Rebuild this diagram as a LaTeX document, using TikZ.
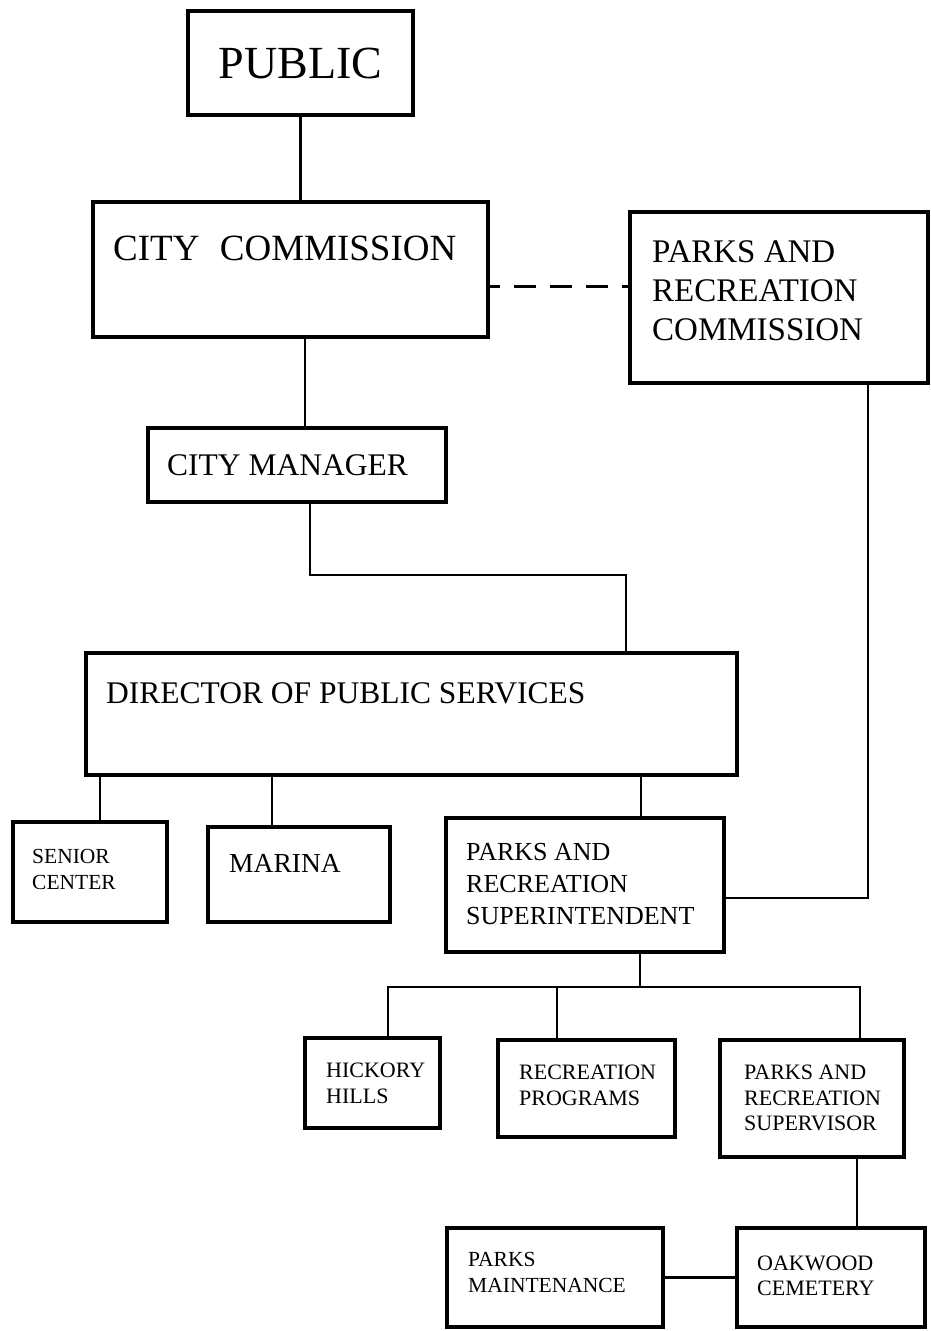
\documentclass[tikz,border=0pt]{standalone}
\usepackage{fontspec}
\setmainfont{Liberation Serif}
\usetikzlibrary{positioning}

\begin{document}
\begin{tikzpicture}[x=1pt,y=-1pt,
    orgbox/.style={draw,line width=4.5pt,anchor=north west,inner sep=0pt,outer sep=0pt},
    orgtext/.style={align=left,inner sep=0pt,anchor=north west},
    link/.style={line width=2.3pt}]
  \useasboundingbox (0,0) rectangle (930,1331);

  % boxes, top to bottom
  \node[orgbox,minimum width=225pt,minimum height=104pt,font=\fontsize{46}{52}\selectfont] (public) at (188,11) {PUBLIC};

  \node[orgbox,minimum width=395pt,minimum height=135pt] (citycomm) at (93,202) {};
  \node[orgtext,font=\fontsize{37}{42}\selectfont,below right=33.5pt and 20pt of citycomm.north west] (citycommtext) {CITY\hspace{.55em}COMMISSION};

  \node[orgbox,minimum width=298pt,minimum height=171pt] (parkscomm) at (630,212) {};
  \node[orgtext,font=\fontsize{33}{39}\selectfont,below right=28.2pt and 22pt of parkscomm.north west] (parkscommtext) {PARKS AND\\RECREATION\\COMMISSION};

  \node[orgbox,minimum width=298pt,minimum height=74pt] (citymgr) at (148,428) {};
  \node[orgtext,font=\fontsize{31.5}{37}\selectfont,below right=26.1pt and 19pt of citymgr.north west] (citymgrtext) {CITY MANAGER};

  \node[orgbox,minimum width=651pt,minimum height=122pt] (director) at (86,653) {};
  \node[orgtext,font=\fontsize{31.5}{37}\selectfont,below right=29.1pt and 20pt of director.north west] (directortext) {DIRECTOR OF PUBLIC SERVICES};

  \node[orgbox,minimum width=154pt,minimum height=100pt] (senior) at (13,822) {};
  \node[orgtext,font=\fontsize{21.5}{26}\selectfont,below right=26.8pt and 19pt of senior.north west] (seniortext) {SENIOR\\CENTER};

  \node[orgbox,minimum width=182pt,minimum height=95pt] (marina) at (208,827) {};
  \node[orgtext,font=\fontsize{27.5}{32}\selectfont,below right=26.8pt and 21pt of marina.north west] (marinatext) {MARINA};

  \node[orgbox,minimum width=278pt,minimum height=134pt] (supt) at (446,818) {};
  \node[orgtext,font=\fontsize{26}{32}\selectfont,below right=24.8pt and 20pt of supt.north west] (supttext) {PARKS AND\\RECREATION\\SUPERINTENDENT};

  \node[orgbox,minimum width=135pt,minimum height=90pt] (hickory) at (305,1038) {};
  \node[orgtext,font=\fontsize{22}{26}\selectfont,below right=25.2pt and 21pt of hickory.north west] (hickorytext) {HICKORY\\HILLS};

  \node[orgbox,minimum width=177pt,minimum height=97pt] (recprog) at (498,1040) {};
  \node[orgtext,font=\fontsize{22}{26}\selectfont,below right=25.2pt and 21pt of recprog.north west] (recprogtext) {RECREATION\\PROGRAMS};

  \node[orgbox,minimum width=184pt,minimum height=117pt] (supervisor) at (720,1040) {};
  \node[orgtext,font=\fontsize{22}{25.5}\selectfont,below right=25.2pt and 24pt of supervisor.north west] (supervisortext) {PARKS AND\\RECREATION\\SUPERVISOR};

  \node[orgbox,minimum width=216pt,minimum height=99pt] (maint) at (447,1228) {};
  \node[orgtext,font=\fontsize{21.5}{26}\selectfont,below right=23.8pt and 21pt of maint.north west] (mainttext) {PARKS\\MAINTENANCE};

  \node[orgbox,minimum width=188pt,minimum height=99pt] (oakwood) at (737,1228) {};
  \node[orgtext,font=\fontsize{22}{25}\selectfont,below right=27.4pt and 20pt of oakwood.north west] (oakwoodtext) {OAKWOOD\\CEMETERY};

  % connectors
  \draw[link] (public.south) -- (public.south |- citycomm.north);
  \draw[link] ([xshift=8pt]citymgr.north) -- ([xshift=8pt]citymgr.north |- citycomm.south);
  \draw[link,dash pattern=on 22pt off 14pt,dash phase=10pt] ([yshift=-17pt]citycomm.east) -- ([yshift=-17pt]citycomm.east -| parkscomm.west);

  \coordinate (mgrbend) at (310,575);
  \coordinate (dirbend) at (626,575);
  \draw[link] (citymgr.south -| mgrbend) -- (mgrbend) -- (dirbend) -- (dirbend |- director.north);

  \draw[link] ([xshift=10pt]senior.north) -- ([xshift=10pt]senior.north |- director.south);
  \draw[link] ([xshift=-27pt]marina.north) -- ([xshift=-27pt]marina.north |- director.south);
  \draw[link] ([xshift=56pt]supt.north) -- ([xshift=56pt]supt.north |- director.south);
  \draw[link] ([xshift=89pt]parkscomm.south) |- ([yshift=-13pt]supt.east);

  \coordinate (suptdrop) at (640,987);
  \coordinate (busleft) at (388,987);
  \coordinate (busmid) at (557,987);
  \coordinate (busright) at (860,987);
  \draw[link] (supt.south -| suptdrop) -- (suptdrop);
  \draw[link] (busleft |- hickory.north) -- (busleft) -- (busright) -- (busright |- supervisor.north);
  \draw[link] (busmid) -- (busmid |- recprog.north);

  \draw[link] ([xshift=45pt]supervisor.south) -- ([xshift=45pt]supervisor.south |- oakwood.north);
  \draw[link] (maint.east) -- (maint.east -| oakwood.west);
\end{tikzpicture}
\end{document}
